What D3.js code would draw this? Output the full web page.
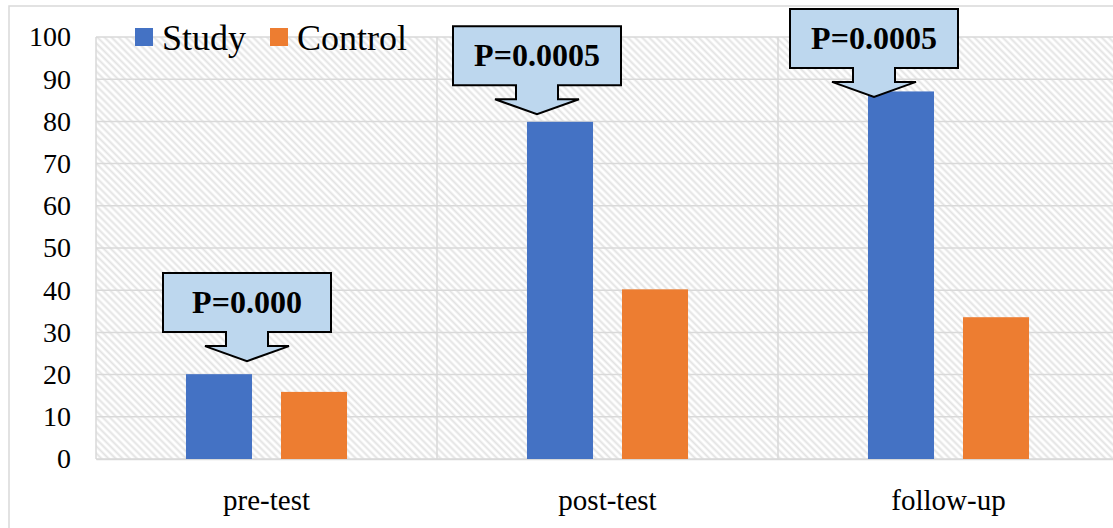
<!DOCTYPE html>
<html>
<head>
<meta charset="utf-8">
<script src="https://cdn.jsdelivr.net/npm/d3@7"></script>
<style>
  body { margin: 0; background: #fff; }
  svg { display: block; }
</style>
</head>
<body>
<svg id="chart" width="1113" height="528"></svg>
<script>
// chart data
const categories = ['pre-test', 'post-test', 'follow-up'];
const seriesNames = ['Study', 'Control'];
const studyValues = [20.1, 79.9, 87.1];
const controlValues = [15.9, 40.2, 33.6];
const yTicks = [0, 10, 20, 30, 40, 50, 60, 70, 80, 90, 100];

// p-value callouts: text, category, value where the arrow tip points
const calloutTexts = ['P=0.000', 'P=0.0005', 'P=0.0005'];
const calloutCats = ['pre-test', 'post-test', 'follow-up'];
const calloutTips = [23.2, 81.7, 85.8];
const calloutDx = [151, 100, 96]; // tip offset from category start (px)

const colors = { Study: '#4472c4', Control: '#ed7d31' };
const font = "'Liberation Serif', 'Times New Roman', serif";

const plot = { left: 96, right: 1119, top: 37, bottom: 459 };

const svg = d3.select('#chart');

// hatch pattern for the plot background
const defs = svg.append('defs');
const pat = defs.append('pattern')
  .attr('id', 'hatch')
  .attr('patternUnits', 'userSpaceOnUse')
  .attr('width', 5)
  .attr('height', 5)
  .attr('patternTransform', 'rotate(45)');
pat.append('rect').attr('width', 5).attr('height', 5).attr('fill', '#fff');
pat.append('line')
  .attr('x1', 0).attr('y1', 2.5).attr('x2', 5).attr('y2', 2.5)
  .attr('stroke', '#e3e3e3')
  .attr('stroke-width', 2);

// outer chart border
svg.append('rect')
  .attr('x', 9).attr('y', 6)
  .attr('width', 1140).attr('height', 540)
  .attr('fill', '#fff')
  .attr('stroke', '#d9d9d9')
  .attr('stroke-width', 1.5);

// scales
const x0 = d3.scaleBand()
  .domain(categories)
  .range([plot.left, plot.right]);

const x1 = d3.scaleBand()
  .domain(seriesNames)
  .range([0, x0.bandwidth()])
  .paddingInner(0.305)
  .paddingOuter(0.947);

const y = d3.scaleLinear()
  .domain([0, 100])
  .range([plot.bottom, plot.top]);

// plot background
svg.append('rect')
  .attr('x', plot.left).attr('y', plot.top)
  .attr('width', plot.right - plot.left)
  .attr('height', plot.bottom - plot.top)
  .attr('fill', 'url(#hatch)');

// horizontal gridlines
svg.append('g')
  .selectAll('line')
  .data(yTicks)
  .enter()
  .append('line')
  .attr('x1', plot.left).attr('x2', plot.right)
  .attr('y1', d => y(d)).attr('y2', d => y(d))
  .attr('stroke', '#d9d9d9')
  .attr('stroke-width', 1.5);

// vertical gridlines at category boundaries
svg.append('g')
  .selectAll('line')
  .data(categories)
  .enter()
  .append('line')
  .attr('x1', d => x0(d)).attr('x2', d => x0(d))
  .attr('y1', plot.top).attr('y2', plot.bottom)
  .attr('stroke', '#d9d9d9')
  .attr('stroke-width', 1.5);

// y axis labels
const yAxis = d3.axisLeft(y)
  .tickValues(yTicks)
  .tickSize(0)
  .tickPadding(25);

svg.append('g')
  .attr('transform', `translate(${plot.left}, 0)`)
  .call(yAxis)
  .call(g => g.select('.domain').remove())
  .selectAll('text')
  .style('font-family', font)
  .style('font-size', '28px')
  .attr('fill', '#000');

// x axis labels
const xAxis = d3.axisBottom(x0)
  .tickSize(0)
  .tickPadding(30);

svg.append('g')
  .attr('transform', `translate(0, ${plot.bottom})`)
  .call(xAxis)
  .call(g => g.select('.domain')
    .attr('stroke', '#d9d9d9')
    .attr('stroke-width', 1.5))
  .selectAll('text')
  .style('font-family', font)
  .style('font-size', '29px')
  .attr('fill', '#000');

// bars
const rows = categories.map((c, i) => ({
  category: c,
  values: [
    { key: 'Study', value: studyValues[i] },
    { key: 'Control', value: controlValues[i] }
  ]
}));

svg.append('g')
  .selectAll('g')
  .data(rows)
  .enter()
  .append('g')
  .attr('transform', d => `translate(${x0(d.category)}, 0)`)
  .selectAll('rect')
  .data(d => d.values)
  .enter()
  .append('rect')
  .attr('x', d => x1(d.key))
  .attr('y', d => y(d.value))
  .attr('width', x1.bandwidth())
  .attr('height', d => y(0) - y(d.value))
  .attr('fill', d => colors[d.key]);

// callouts (down-arrow shape)
const callouts = calloutTexts.map((t, i) => ({
  text: t,
  tx: x0(calloutCats[i]) + calloutDx[i],
  ty: y(calloutTips[i])
}));

const calloutPath = () => {
  const bw = 84, top = -88, bot = -29, sh = 21, wg = 42, wy = -15;
  return d3.line()([
    [-bw, top], [bw, top], [bw, bot], [sh, bot], [sh, wy], [wg, wy],
    [0, 0], [-wg, wy], [-sh, wy], [-sh, bot], [-bw, bot]
  ]) + 'Z';
};

const cg = svg.append('g')
  .selectAll('g')
  .data(callouts)
  .enter()
  .append('g')
  .attr('transform', d => `translate(${d.tx}, ${d.ty})`);

cg.append('path')
  .attr('d', calloutPath)
  .attr('fill', '#bdd7ee')
  .attr('stroke', '#000')
  .attr('stroke-width', 2)
  .attr('stroke-linejoin', 'miter');

cg.append('text')
  .attr('x', 0)
  .attr('y', -48)
  .attr('text-anchor', 'middle')
  .style('font-family', font)
  .style('font-weight', 'bold')
  .style('font-size', '32px')
  .attr('fill', '#000')
  .text(d => d.text);

// legend
const legend = svg.append('g')
  .attr('transform', 'translate(135, 28)');

const legendX = [0, 135];
seriesNames.forEach((s, i) => {
  const row = legend.append('g')
    .attr('transform', `translate(${legendX[i]}, 0)`);

  row.append('rect')
    .attr('width', 18)
    .attr('height', 18)
    .attr('fill', colors[s]);

  row.append('text')
    .attr('x', 27)
    .attr('y', 22)
    .style('font-family', font)
    .style('font-size', '36px')
    .attr('fill', '#000')
    .text(s);
});
</script>
</body>
</html>
